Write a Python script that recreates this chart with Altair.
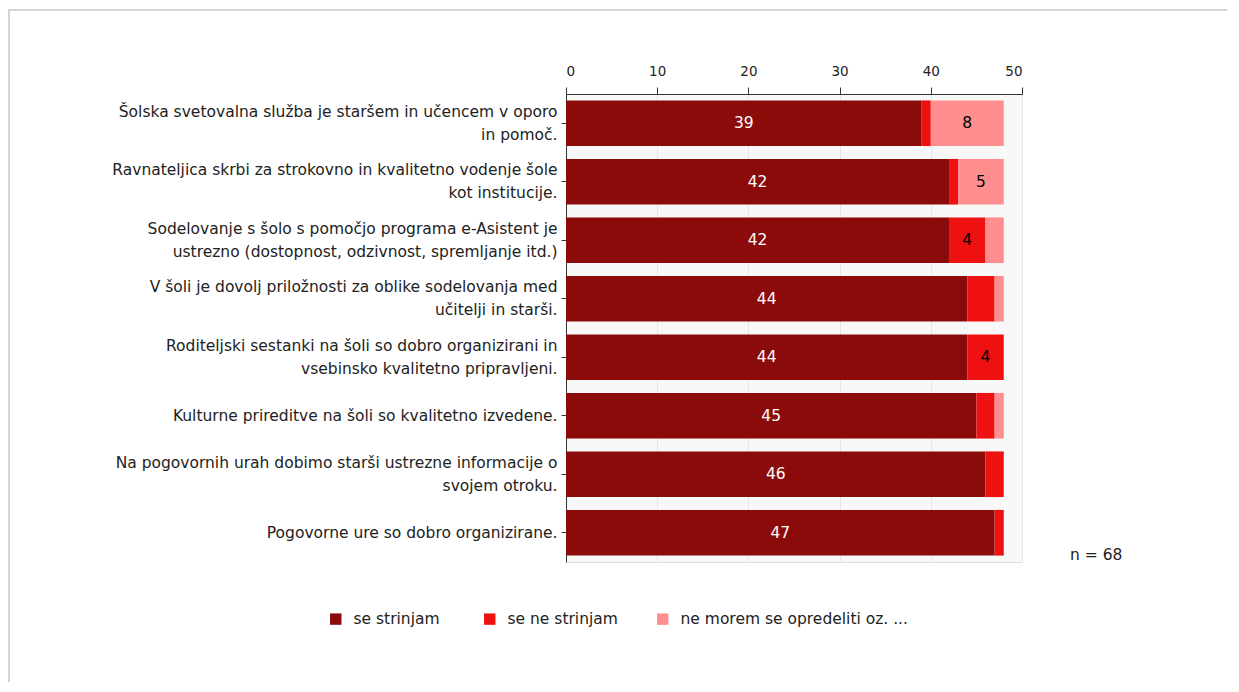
import altair as alt
import pandas as pd

statements = [
    "Šolska svetovalna služba je staršem in učencem v oporo|in pomoč.",
    "Ravnateljica skrbi za strokovno in kvalitetno vodenje šole|kot institucije.",
    "Sodelovanje s šolo s pomočjo programa e-Asistent je|ustrezno (dostopnost, odzivnost, spremljanje itd.)",
    "V šoli je dovolj priložnosti za oblike sodelovanja med|učitelji in starši.",
    "Roditeljski sestanki na šoli so dobro organizirani in|vsebinsko kvalitetno pripravljeni.",
    "Kulturne prireditve na šoli so kvalitetno izvedene.",
    "Na pogovornih urah dobimo starši ustrezne informacije o|svojem otroku.",
    "Pogovorne ure so dobro organizirane.",
]
categories = ["se  strinjam", "se ne strinjam", "ne morem se opredeliti oz. ..."]
agree = [39, 42, 42, 44, 44, 45, 46, 47]
disagree = [1, 1, 4, 3, 4, 2, 2, 1]
undecided = [8, 5, 2, 1, 0, 1, 0, 0]
colors = ["#8b0b0b", "#ef1111", "#ff8e8e"]
n_label = "n = 68"

rows = []
for i, s in enumerate(statements):
    for k, (cat, vals) in enumerate(zip(categories, [agree, disagree, undecided])):
        v = vals[i]
        if v > 0:
            rows.append({"statement": s, "category": cat, "order": k, "value": v,
                         "label": str(v) if v >= 4 else "",
                         "tcolor": "white" if k == 0 else "black"})
df = pd.DataFrame(rows)

FONT = "DejaVu Sans"
FS = 15.5
LH = 23

base = alt.Chart(df).transform_stack(
    stack="value", groupby=["statement"], as_=["x0", "x1"],
    sort=[alt.SortField("order", order="ascending")]
).transform_calculate(mid="(datum.x0 + datum.x1) / 2")

y_enc = alt.Y("statement:N", sort=statements, title=None,
              scale=alt.Scale(paddingInner=0.22, paddingOuter=0.11),
              axis=alt.Axis(labelExpr="split(datum.label, '|')", labelFont=FONT,
                            labelFontSize=FS, labelColor="#222", labelLineHeight=LH,
                            labelOffset={"condition": {"test": "indexof(datum.value, '|') >= 0",
                                                       "value": -LH / 2},
                                         "value": 0},
                            labelPadding=4, tickSize=5, tickColor="#333",
                            domainColor="#333", labelLimit=700, grid=False))

bars = base.mark_bar().encode(
    x=alt.X("x0:Q", title=None,
            scale=alt.Scale(domain=[0, 50], nice=False),
            axis=alt.Axis(orient="top", values=[0, 10, 20, 30, 40, 50],
                          labelFont=FONT, labelFontSize=13.5, labelColor="#222",
                          tickSize=7, tickColor="#333", domainColor="#333",
                          grid=True, gridColor="#e6e6e6", labelPadding=9)),
    x2="x1:Q",
    y=y_enc,
    color=alt.Color("category:N", sort=categories,
                    scale=alt.Scale(domain=categories, range=colors),
                    legend=alt.Legend(title=None, orient="none", direction="horizontal",
                                      legendX=-238, legendY=517,
                                      symbolType="square", symbolSize=130,
                                      symbolStrokeWidth=0, labelFont=FONT,
                                      labelFontSize=FS, labelColor="#222",
                                      labelLimit=400,
                                      columnPadding=37, labelOffset=10)),
)

texts = base.mark_text(font=FONT, fontSize=FS).encode(
    x="mid:Q",
    y=alt.Y("statement:N", sort=statements),
    text="label:N",
    color=alt.Color("tcolor:N", scale=None),
)

n_text = alt.Chart(pd.DataFrame({"t": [n_label]})).mark_text(
    font=FONT, fontSize=FS, align="left", baseline="middle", color="#222"
).encode(x=alt.value(504), y=alt.value(461), text="t:N")

frame_df = pd.DataFrame({"a": [0]})
frame_top = alt.Chart(frame_df).mark_rule(stroke="#d4d4d4", strokeWidth=2).encode(
    x=alt.value(-558), x2=alt.value(720), y=alt.value(-84))
frame_left = alt.Chart(frame_df).mark_rule(stroke="#d4d4d4", strokeWidth=2).encode(
    x=alt.value(-557), y=alt.value(-84), y2=alt.value(640))

chart = alt.layer(frame_top, frame_left, bars, texts, n_text).properties(
    width=456, height=468,
    autosize=alt.AutoSizeParams(type="none"),
    padding={"left": 558, "top": 86, "right": 205, "bottom": 120},
).configure_view(stroke="#dcdcdc", fill="#f8f8f8")

chart.save("out.html", embed_options={"renderer": "svg", "actions": False})
